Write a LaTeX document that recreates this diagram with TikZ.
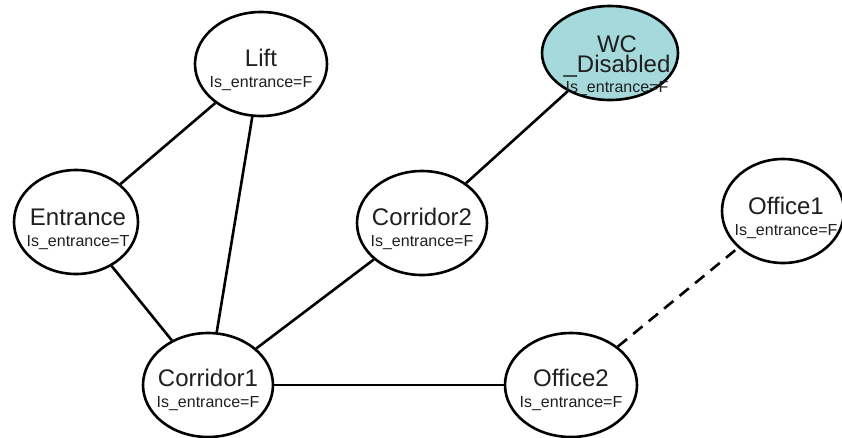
\documentclass[tikz,border=0pt]{standalone}
\usepackage{fontspec}
\setmainfont{Liberation Sans}
\usetikzlibrary{shapes.geometric}
\definecolor{wcfill}{RGB}{166,217,220}
% the strut fixes the height of the first line, so the north anchor of a
% caption lies 18pt above the baseline of its room name
\newcommand{\roomtitle}[1]{\rule{0pt}{18pt}#1}
\newcommand{\entflag}[1]{{\fontsize{16}{21}\selectfont Is\_entrance=#1}}
\tikzset{
  room/.style={ellipse, draw=black, line width=2.6pt, fill=white, inner sep=0pt,
    minimum width=130pt, minimum height=104pt},
  caption/.style={align=center, inner sep=0pt, anchor=north, text=black!88,
    font=\fontsize{24}{21}\selectfont},
  link/.style={line width=2.6pt, draw=black},
  planned/.style={link, dash pattern=on 12pt off 8pt},
}
\begin{document}
\begin{tikzpicture}[x=1pt,y=-1pt]
  \useasboundingbox (0,0) rectangle (842,437);
  % rooms
  \node[room, minimum width=132pt] (lift) at (261,64) {};
  \node[room, fill=wcfill, minimum width=136pt, minimum height=94pt] (wc) at (610,53) {};
  \node[room, minimum width=124pt] (entrance) at (76,222) {};
  \node[room] (corr2) at (422,223) {};
  \node[room, minimum width=122pt] (office1) at (783,211) {};
  \node[room] (corr1) at (208,385) {};
  \node[room, minimum width=132pt] (office2) at (571,385) {};
  % captions
  \node[caption] (lift-t) at ([yshift=16pt]lift.center) {\roomtitle{Lift}\\\entflag{F}};
  \node[caption, font=\fontsize{24}{20}\selectfont] (wc-t) at ([xshift=7pt,yshift=19pt]wc.center)
    {\roomtitle{WC}\\\_Disabled\\\entflag{F}};
  \node[caption] (entrance-t) at ([xshift=2pt,yshift=15pt]entrance.center) {\roomtitle{Entrance}\\\entflag{T}};
  \node[caption] (corr2-t) at ([yshift=16pt]corr2.center) {\roomtitle{Corridor2}\\\entflag{F}};
  \node[caption] (office1-t) at ([xshift=3pt,yshift=15pt]office1.center) {\roomtitle{Office1}\\\entflag{F}};
  \node[caption] (corr1-t) at ([yshift=17pt]corr1.center) {\roomtitle{Corridor1}\\\entflag{F}};
  \node[caption] (office2-t) at ([yshift=17pt]office2.center) {\roomtitle{Office2}\\\entflag{F}};
  % connections
  \draw[link] (entrance) -- (lift);
  \draw[link] (lift) -- (corr1);
  \draw[link] (entrance) -- (corr1);
  \draw[link] (corr1) -- (corr2);
  \draw[link] (corr2) -- (wc);
  \draw[link] (corr1) -- (office2);
  \draw[planned] (office2) -- (office1);
\end{tikzpicture}
\end{document}
